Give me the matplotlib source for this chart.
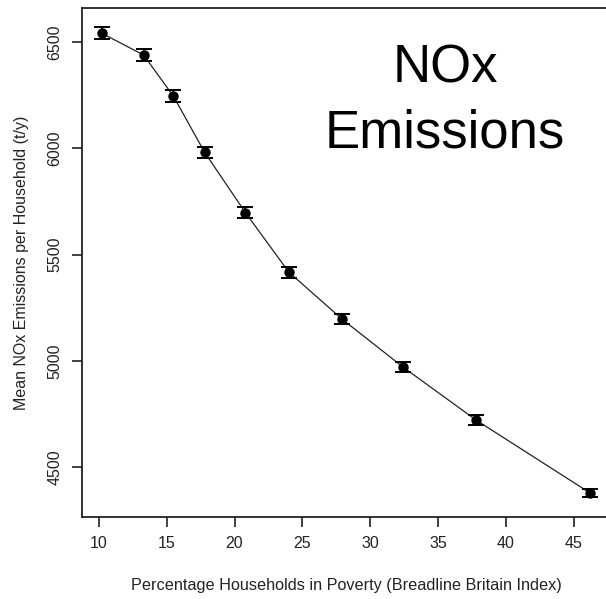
import numpy as np
import matplotlib
matplotlib.use("Agg")
import matplotlib.pyplot as plt

# Emisiones medias de NOx por hogar segun nivel de pobreza
pobreza = [10.2, 13.3, 15.5, 17.8, 20.8, 24.0, 27.9, 32.4, 37.8, 46.2]
nox_media = [6542, 6439, 6245, 5981, 5698, 5418, 5198, 4972, 4722, 4379]
nox_error = [29, 28, 28, 27, 26, 26, 25, 25, 24, 21]

X_TICKS = [10, 15, 20, 25, 30, 35, 40, 45]
Y_TICKS = [4500, 5000, 5500, 6000, 6500]

plt.rcParams["font.family"] = ["Liberation Sans", "DejaVu Sans"]

W, H = 606, 599
fig = plt.figure(figsize=(W / 100, H / 100), dpi=100)
ax = fig.add_axes([0.1353, 0.1369, 0.8713, 0.8497])

ax.plot(pobreza, nox_media, color="#222222", lw=0.9)
ax.errorbar(pobreza, nox_media, yerr=nox_error, fmt="o", color="black",
            ms=6.5, elinewidth=1.2, capsize=6, capthick=1.4)

ax.set_xlim(8.76, 47.67)
ax.set_ylim(4266, 6660)
ax.set_xticks(X_TICKS)
ax.set_yticks(Y_TICKS)
ax.tick_params(direction="out", length=7, width=1.2, colors="#222222",
               labelsize=11.5, pad=7)
for lbl in ax.get_yticklabels():
    lbl.set_rotation(90)
    lbl.set_va("center")

for s in ax.spines.values():
    s.set_linewidth(1.3)
    s.set_color("#222222")

ax.set_xlabel("Percentage Households in Poverty (Breadline Britain Index)",
              fontsize=11.7, color="#222222", labelpad=19)
ax.set_ylabel("Mean NOx Emissions per Household (t/y)",
              fontsize=11.5, color="#222222", labelpad=13)

# titulo dentro del panel, en coordenadas de figura (baseline de la ultima linea)
fig.text(445 / W, 1 - 147 / H, "NOx\nEmissions", fontsize=38,
         ha="center", va="baseline", linespacing=1.36, color="black")

fig.savefig("out.png", dpi=100)
